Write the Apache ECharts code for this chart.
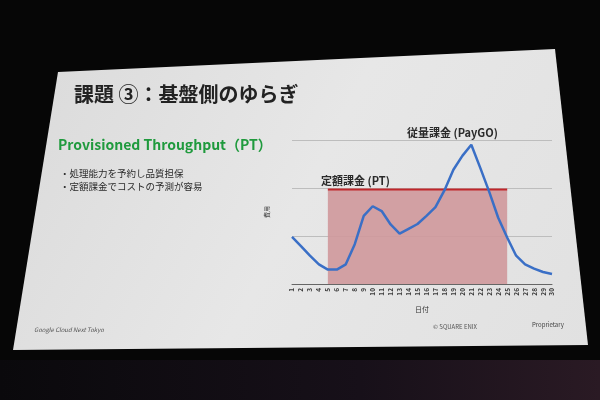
<!DOCTYPE html>
<html>
<head>
<meta charset="utf-8">
<script src="https://cdn.jsdelivr.net/npm/echarts@6/dist/echarts.min.js"></script>
<style>
html,body{margin:0;padding:0;background:#060606;}
#c{width:600px;height:400px;}
</style>
</head>
<body>
<div id="c"></div>
<script>
// ---- data ----
const days = ['1','2','3','4','5','6','7','8','9','10','11','12','13','14','15','16','17','18','19','20','21','22','23','24','25','26','27','28','29','30'];
const payGo = [0.98,0.79,0.59,0.41,0.30,0.30,0.41,0.83,1.42,1.62,1.52,1.24,1.05,1.15,1.25,1.42,1.60,1.95,2.38,2.67,2.90,2.42,1.92,1.38,0.97,0.59,0.41,0.32,0.25,0.21];
const ptCost = [null,null,null,null,1.97,1.97,1.97,1.97,1.97,1.97,1.97,1.97,1.97,1.97,1.97,1.97,1.97,1.97,1.97,1.97,1.97,1.97,1.97,1.97,1.97,null,null,null,null,null];
const seriesNames = ['定額課金 (PT)', '従量課金 (PayGO)'];
const titleText = '課題 ③：基盤側のゆらぎ';
const subTitle = 'Provisioned Throughput（PT）';
const bullets = ['・処理能力を予約し品質担保', '・定額課金でコストの予測が容易'];

const FONT = '"Noto Sans CJK JP", "Noto Sans", sans-serif';
const chart = echarts.init(document.getElementById('c'), null, {renderer: 'canvas'});

chart.setOption({
  backgroundColor: '#060606',
  animation: false,
  textStyle: {fontFamily: FONT},
  graphic: [
    {type: 'rect', z: -20, shape: {x: 0, y: 360, width: 600, height: 40},
     style: {fill: new echarts.graphic.LinearGradient(0,0,1,0,[
       {offset:0,color:'#0a090c'},{offset:0.6,color:'#171019'},{offset:1,color:'#2a1a24'}])}},
    {type: 'polygon', z: -10,
     shape: {points: [[58,72],[555,49],[588,345],[13,350]]},
     style: {fill: new echarts.graphic.LinearGradient(0,0,1,1,[
       {offset:0,color:'#dadada'},{offset:0.5,color:'#e7e7e7'},{offset:1,color:'#e1e1e1'}])}},
    {type: 'text', left: 74, top: 84, style: {text: titleText, font: 'bold 20px ' + FONT, fill: '#222'}},
    {type: 'text', left: 58, top: 138, style: {text: subTitle, font: 'bold 14px ' + FONT, fill: '#1f9a3d'}},
    {type: 'text', left: 60, top: 169, style: {text: bullets[0], font: '9.5px ' + FONT, fill: '#2a2a2a'}},
    {type: 'text', left: 60, top: 182, style: {text: bullets[1], font: '9.5px ' + FONT, fill: '#2a2a2a'}},
    {type: 'text', left: 321, top: 175, style: {text: seriesNames[0], font: 'bold 11px ' + FONT, fill: '#2a2a2a'}},
    {type: 'text', left: 407, top: 127, style: {text: seriesNames[1], font: 'bold 11px ' + FONT, fill: '#2a2a2a'}},
    {type: 'text', left: 34, top: 327, style: {text: 'Google Cloud Next Tokyo', font: 'italic 6px ' + FONT, fill: '#555'}},
    {type: 'text', left: 433, top: 324, style: {text: '© SQUARE ENIX', font: '6px ' + FONT, fill: '#555'}},
    {type: 'text', left: 532, top: 322, style: {text: 'Proprietary', font: '6px ' + FONT, fill: '#444'}}
  ],
  grid: {left: 292, right: 48, top: 140, bottom: 116},
  xAxis: {
    type: 'category', data: days, boundaryGap: false,
    name: '日付', nameLocation: 'middle', nameGap: 22,
    nameTextStyle: {fontSize: 7, color: '#333'},
    axisLine: {lineStyle: {color: '#666', width: 1}},
    axisTick: {show: false},
    axisLabel: {interval: 0, rotate: 90, fontSize: 6.5, fontWeight: 'bold', color: '#3a3a3a', margin: 4}
  },
  yAxis: {
    type: 'value', min: 0, max: 3, interval: 1,
    name: '費用', nameLocation: 'middle', nameGap: 22, nameRotate: 90,
    nameTextStyle: {fontSize: 6, color: '#333'},
    axisLabel: {show: false}, axisLine: {show: false}, axisTick: {show: false},
    splitLine: {lineStyle: {color: '#bdbdbd', width: 1}}
  },
  series: [
    {name: seriesNames[0], type: 'line', data: ptCost, symbol: 'none',
     lineStyle: {color: '#c0262b', width: 2},
     areaStyle: {color: '#cf989b', opacity: 0.9}, z: 2},
    {name: seriesNames[1], type: 'line', data: payGo, symbol: 'none',
     lineStyle: {color: '#3a6fc6', width: 2.5}, z: 3}
  ]
});
</script>
</body>
</html>
